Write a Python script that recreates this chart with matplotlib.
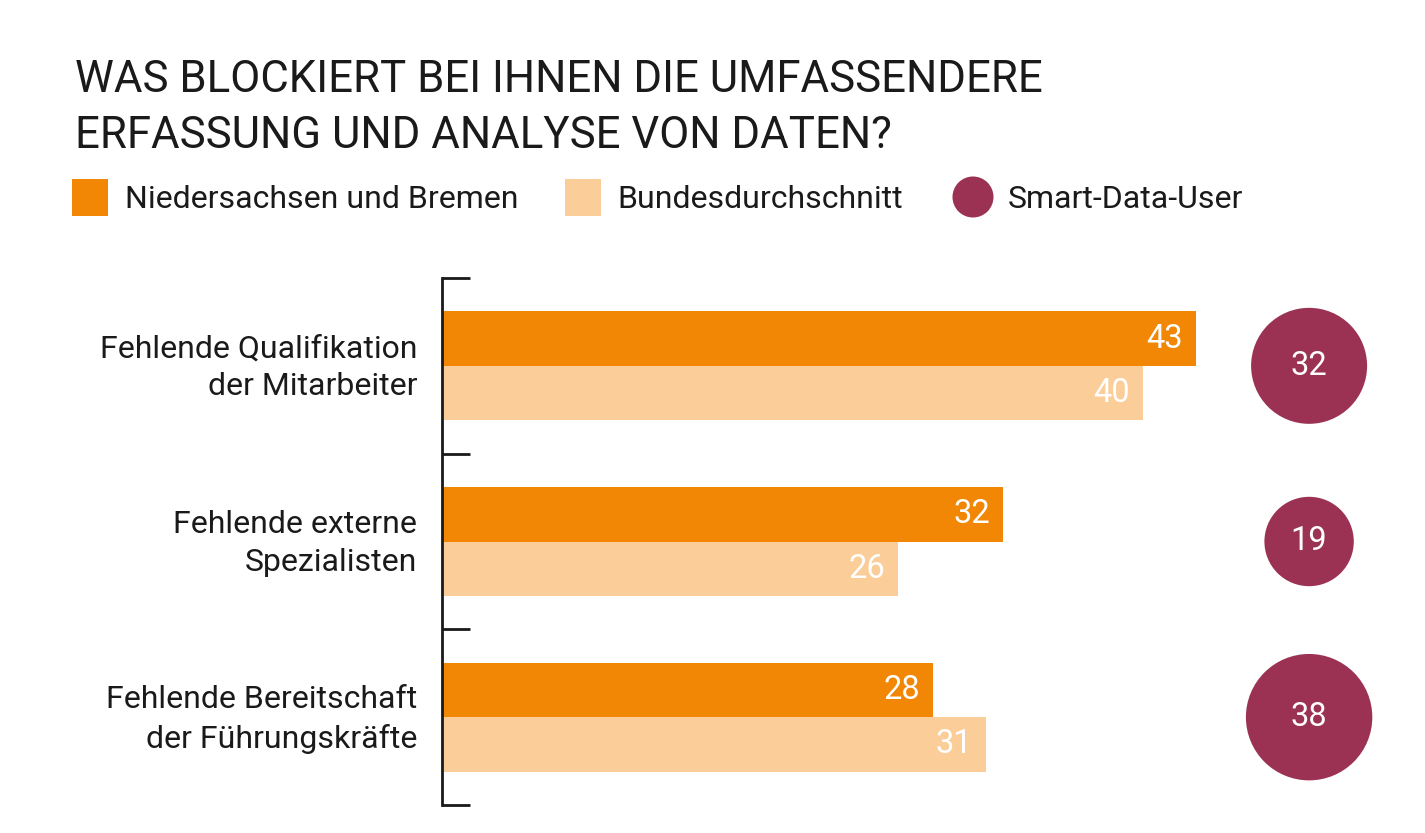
import matplotlib.pyplot as plt
from matplotlib.patches import Rectangle, Circle

categories = ["Fehlende Qualifikation\nder Mitarbeiter",
              "Fehlende externe\nSpezialisten",
              "Fehlende Bereitschaft\nder Führungskräfte"]
niedersachsen = [43, 32, 28]
bund = [40, 26, 31]
smart_data = [32, 19, 38]

ORANGE = "#f28705"
LIGHT = "#fbcd99"
WINE = "#9b3253"
FONT = ["Roboto", "DejaVu Sans"]
plt.rcParams["font.family"] = FONT

W, H = 1425, 833
fig = plt.figure(figsize=(W / 100, H / 100), dpi=100)

# main axes: left spine at x=442px, from y=278px to y=805px
ax = fig.add_axes([442 / W, (H - 805) / H, 958 / W, 527 / H])
px_per_unit = 754 / 43
ax.set_xlim(0, 958 / px_per_unit)
ax.set_ylim(2.5, -0.5)

bh = 0.31
ys = list(range(len(categories)))
ax.barh([y - bh / 2 for y in ys], niedersachsen, height=bh, color=ORANGE)
ax.barh([y + bh / 2 for y in ys], bund, height=bh, color=LIGHT)

for y, a, b in zip(ys, niedersachsen, bund):
    ax.text(a - 0.75, y - bh / 2, str(a), ha="right", va="center",
            color="white", fontsize=23.5)
    ax.text(b - 0.75, y + bh / 2, str(b), ha="right", va="center",
            color="white", fontsize=23.5)

# smart data user circles, area proportional to value
cx = 49.45
d_pt = 116 * 0.72
sizes = [d_pt ** 2 * v / 32 for v in smart_data]
ax.scatter([cx] * 3, ys, s=sizes, color=WINE, clip_on=False, zorder=3,
           linewidths=0)
for y, v in zip(ys, smart_data):
    ax.text(cx, y, str(v), ha="center", va="center", color="white",
            fontsize=23.5, zorder=4)

for s in ["top", "right", "bottom"]:
    ax.spines[s].set_visible(False)
ax.spines["left"].set_linewidth(2)
ax.spines["left"].set_color("#1a1a1a")
ax.set_xticks([])
ax.set_yticks([-0.5, 0.5, 1.5, 2.5])
ax.set_yticklabels([])
ax.tick_params(axis="y", direction="in", length=20, width=2, color="#1a1a1a")
ax.set_yticks([y - 0.03 for y in ys], minor=True)
ax.set_yticklabels(categories, minor=True, fontsize=23, ha="right",
                   linespacing=1.38, color="#1a1a1a")
ax.tick_params(axis="y", which="minor", length=0, pad=18)

# overlay in pixel coordinates for title and legend
ov = fig.add_axes([0, 0, 1, 1], zorder=-1)
ov.set_xlim(0, W)
ov.set_ylim(H, 0)
ov.axis("off")

ov.text(75, 92, "WAS BLOCKIERT BEI IHNEN DIE UMFASSENDERE",
        fontsize=31.5, va="baseline", color="#1a1a1a")
ov.text(75, 148, "ERFASSUNG UND ANALYSE VON DATEN?",
        fontsize=31.5, va="baseline", color="#1a1a1a")

ov.add_patch(Rectangle((72, 179), 36, 37, color=ORANGE, lw=0))
ov.text(125, 199, "Niedersachsen und Bremen", fontsize=23, va="center",
        color="#1a1a1a")
ov.add_patch(Rectangle((565, 179), 36, 37, color=LIGHT, lw=0))
ov.text(617, 199, "Bundesdurchschnitt", fontsize=23, va="center",
        color="#1a1a1a")
ov.add_patch(Circle((973, 197), 20.5, color=WINE, lw=0))
ov.text(1008, 199, "Smart-Data-User", fontsize=23, va="center",
        color="#1a1a1a")

fig.savefig("out.png", dpi=100)
